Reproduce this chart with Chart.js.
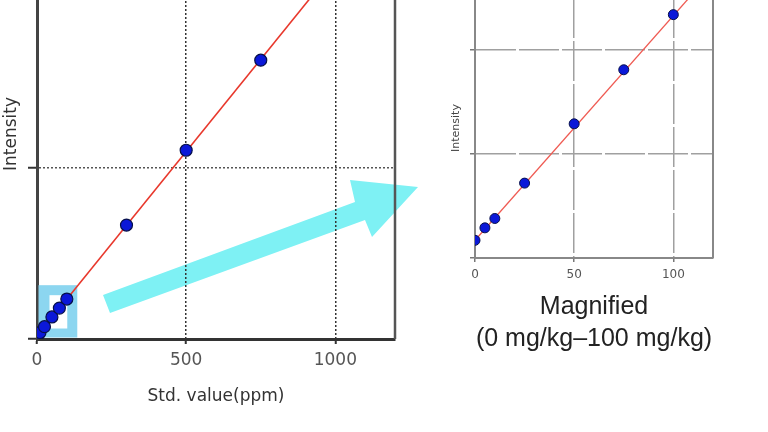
<!DOCTYPE html>
<html>
<head>
<meta charset="utf-8">
<script src="https://cdn.jsdelivr.net/npm/chart.js@4.4.1/dist/chart.umd.min.js"></script>
<style>
  html, body { margin: 0; padding: 0; background: #fff; }
  body { position: relative; width: 768px; height: 432px; overflow: hidden; }
  #arrow { position: absolute; left: 0; top: 0; z-index: 0; }
  #mainChart { position: absolute; left: 0; top: -71px; z-index: 1; }
  #zoomChart { position: absolute; left: 430px; top: -2px; z-index: 1; }
</style>
</head>
<body>
<svg id="arrow" width="768" height="432">
  <polygon points="103,295 355,202 350,180 418,187 372,237 365,220 110,313" fill="#7ef1f4" />
</svg>
<canvas id="mainChart" width="410" height="503"></canvas>
<canvas id="zoomChart" width="338" height="434"></canvas>
<script>
// standards (ppm) and measured intensity (arbitrary units)
const stdPpm = [0, 5, 10, 25, 50, 75, 100, 300, 500, 750]
const intensity = [17, 29, 38, 72, 129, 181, 234, 667, 1105, 1632]

// calibration line end points
const fitPpm = [0, 1200]
const fitIntensity = [17, 2609]

// tick values
const mainXTicks = [0, 500, 1000]
const mainYTicks = [0, 1000]
const zoomXTicks = [0, 50, 100]
const zoomYTicks = [0, 100, 200]

// range highlighted on the main chart
const zoomPpm = [0, 135]
const zoomIntensity = [0, 315]

const points = stdPpm.map((x, i) => ({ x: x, y: intensity[i] }))
const fitLine = fitPpm.map((x, i) => ({ x: x, y: fitIntensity[i] }))

const framePlugin = {
  id: 'frame',
  beforeDatasetsDraw(chart, args, opts) {
    if (!opts.box) return
    const { ctx, scales: { x, y } } = chart
    const l = x.getPixelForValue(opts.box[0]) + 1.5
    const r = x.getPixelForValue(opts.box[1])
    const t = y.getPixelForValue(opts.box[3])
    const b = y.getPixelForValue(opts.box[2]) - 1.5
    ctx.save()
    ctx.fillStyle = '#8cd6f0'
    ctx.fillRect(l, t, r - l, b - t)
    ctx.fillStyle = '#fff'
    ctx.fillRect(l + 11, t + 10, r - l - 21, b - t - 19)
    ctx.restore()
  },
  afterDraw(chart, args, opts) {
    const { ctx, chartArea: a } = chart
    ctx.save()
    ctx.strokeStyle = opts.color
    ctx.lineWidth = opts.width
    ctx.beginPath()
    ctx.moveTo(a.right, a.top)
    ctx.lineTo(a.right, a.bottom)
    ctx.stroke()
    ctx.restore()
  }
}

const setTicks = (vals) => (s) => { s.ticks = vals.map(v => ({ value: v })) }

// main calibration curve
new Chart(document.getElementById('mainChart'), {
  type: 'scatter',
  data: {
    datasets: [
      {
        data: points,
        pointRadius: 6,
        pointBackgroundColor: '#0b18d8',
        pointBorderColor: '#07104a',
        pointBorderWidth: 1.2,
        clip: 0,
        order: 0
      },
      {
        type: 'line',
        data: fitLine,
        borderColor: '#e8382c',
        borderWidth: 1.6,
        pointRadius: 0,
        order: 1
      }
    ]
  },
  options: {
    responsive: false,
    animation: false,
    layout: { autoPadding: false, padding: { left: 0, right: 15, top: 0, bottom: 0 } },
    plugins: {
      legend: { display: false },
      tooltip: { enabled: false },
      frame: { color: '#555', width: 2.5, box: [zoomPpm[0], zoomPpm[1], zoomIntensity[0], zoomIntensity[1]] }
    },
    scales: {
      x: {
        type: 'linear',
        min: 0,
        max: 1200,
        afterBuildTicks: setTicks(mainXTicks),
        afterFit: s => { s.height = 93 },
        grid: { color: '#333', lineWidth: 1.5, tickLength: 5, tickColor: '#333', tickWidth: 2 },
        border: { color: '#333', width: 3, dash: [2, 2] },
        ticks: { font: { family: 'DejaVu Sans', size: 17 }, color: '#555', padding: 6, maxRotation: 0, callback: v => String(v) },
        title: { display: true, text: 'Std. value(ppm)', font: { family: 'DejaVu Sans', size: 17 }, color: '#333', padding: { top: 0, bottom: 25 } }
      },
      y: {
        type: 'linear',
        min: 0,
        max: 2400,
        afterBuildTicks: setTicks(mainYTicks),
        afterFit: s => { s.width = 37 },
        grid: { color: '#555', lineWidth: 1.5, tickLength: 9, tickColor: '#333', tickWidth: 2 },
        border: { color: '#444', width: 3, dash: [2, 2] },
        ticks: { display: false },
        title: { display: true, text: 'Intensity', font: { family: 'DejaVu Sans', size: 17 }, color: '#333', padding: { top: 1, bottom: 0 } }
      }
    }
  },
  plugins: [framePlugin]
})

// magnified part 0-100 ppm
new Chart(document.getElementById('zoomChart'), {
  type: 'scatter',
  data: {
    datasets: [
      {
        data: points,
        pointRadius: 5,
        pointBackgroundColor: '#0b18d8',
        pointBorderColor: '#07104a',
        pointBorderWidth: 1,
        clip: 0,
        order: 0
      },
      {
        type: 'line',
        data: fitLine,
        borderColor: '#ef5a52',
        borderWidth: 1.3,
        pointRadius: 0,
        order: 1
      }
    ]
  },
  options: {
    responsive: false,
    animation: false,
    layout: { autoPadding: false, padding: { left: 0, right: 55, top: 0, bottom: 0 } },
    plugins: {
      legend: { display: false },
      tooltip: { enabled: false },
      frame: { color: '#888', width: 2 }
    },
    scales: {
      x: {
        type: 'linear',
        min: 0,
        max: 120,
        afterBuildTicks: setTicks(zoomXTicks),
        afterFit: s => { s.height = 174 },
        grid: { color: '#a0a0a0', lineWidth: 1.5, tickLength: 4, tickColor: '#777' },
        border: { color: '#888', width: 2, dash: [40, 3] },
        ticks: { font: { family: 'DejaVu Sans', size: 12 }, color: '#555', padding: 6, maxRotation: 0 },
        title: {
          display: true,
          text: ['Magnified', '(0 mg/kg\u2013100 mg/kg)'],
          font: { family: 'Liberation Sans', size: 25, lineHeight: '32px' },
          color: '#222',
          padding: { top: 0, bottom: 77 }
        }
      },
      y: {
        type: 'linear',
        min: 0,
        max: 250,
        afterBuildTicks: setTicks(zoomYTicks),
        afterFit: s => { s.width = 45 },
        grid: { color: '#a0a0a0', lineWidth: 1.5, tickLength: 5, tickColor: '#777' },
        border: { color: '#888', width: 2, dash: [40, 3] },
        ticks: { display: false },
        title: { display: true, text: 'Intensity', font: { family: 'DejaVu Sans', size: 11 }, color: '#444', padding: { top: 20, bottom: 0 } }
      }
    }
  },
  plugins: [framePlugin]
})
</script>
</body>
</html>
